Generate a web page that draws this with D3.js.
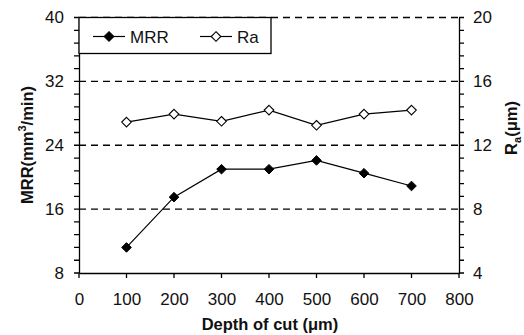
<!DOCTYPE html>
<html>
<head>
<meta charset="utf-8">
<script src="https://cdn.jsdelivr.net/npm/d3@7"></script>
<style>
  body { margin: 0; background: #fff; }
  svg { font-family: "Liberation Sans", Arial, sans-serif; }
</style>
</head>
<body>
<svg id="chart" width="524" height="335"></svg>
<script>
// data
const depths = [100, 200, 300, 400, 500, 600, 700];
const mrrValues = [11.2, 17.5, 21.0, 21.0, 22.1, 20.5, 18.9];
const raValues = [13.45, 13.95, 13.5, 14.2, 13.25, 13.95, 14.2];
const xTicks = [0, 100, 200, 300, 400, 500, 600, 700, 800];
const leftTicks = [8, 16, 24, 32, 40];
const rightTicks = [4, 8, 12, 16, 20];

const svg = d3.select("#chart");
const margin = { left: 79, right: 65, top: 17.5, bottom: 62 };
const width = 524 - margin.left - margin.right;
const height = 335 - margin.top - margin.bottom;

const g = svg.append("g")
  .attr("transform", "translate(" + margin.left + "," + margin.top + ")");

const x = d3.scaleLinear().domain([0, 800]).range([0, width]);
const yL = d3.scaleLinear().domain([8, 40]).range([height, 0]);
const yR = d3.scaleLinear().domain([4, 20]).range([height, 0]);

// dashed grid lines
g.append("g")
  .selectAll("line")
  .data(leftTicks.slice(1))
  .enter()
  .append("line")
  .attr("x1", 0)
  .attr("x2", width)
  .attr("y1", d => yL(d))
  .attr("y2", d => yL(d))
  .attr("stroke", "#000")
  .attr("stroke-width", 1.3)
  .attr("stroke-dasharray", "7,5");

// axes (labels from d3 axes, ticks drawn below)
const bottomAxis = g.append("g")
  .attr("transform", "translate(0," + height + ")")
  .call(d3.axisBottom(x).tickValues(xTicks).tickSize(0).tickFormat(d3.format("d")));
g.append("g")
  .call(d3.axisLeft(yL).tickValues(leftTicks).tickSize(0).tickPadding(15));
g.append("g")
  .attr("transform", "translate(" + width + ",0)")
  .call(d3.axisRight(yR).tickValues(rightTicks).tickSize(0).tickPadding(14));

svg.selectAll(".domain").attr("stroke", "#000").attr("stroke-width", 1.3);
svg.selectAll(".tick text")
  .attr("font-size", 17)
  .attr("font-family", "Liberation Sans, Arial, sans-serif")
  .attr("fill", "#111");
bottomAxis.selectAll(".tick text").attr("y", 32).attr("dy", 0);

// tick marks (minor every 1.6 on the left, 0.8 on the right)
const minorL = d3.range(8, 40.01, 1.6);
const minorR = d3.range(4, 20.01, 0.8);
const tickLen = 5;
const tickPath = [];
minorL.forEach(v => tickPath.push("M" + (-tickLen) + "," + yL(v) + "H0"));
minorR.forEach(v => tickPath.push("M" + width + "," + yR(v) + "h" + tickLen));
xTicks.forEach(v => tickPath.push("M" + x(v) + "," + height + "v" + tickLen));
g.append("path")
  .attr("d", tickPath.join(""))
  .attr("fill", "none")
  .attr("stroke", "#000")
  .attr("stroke-width", 1.3);

// lines
const mrrLine = d3.line().x((d, i) => x(depths[i])).y(d => yL(d));
const raLine = d3.line().x((d, i) => x(depths[i])).y(d => yR(d));

g.append("path")
  .datum(mrrValues)
  .attr("d", mrrLine)
  .attr("fill", "none")
  .attr("stroke", "#000")
  .attr("stroke-width", 1.2);
g.append("path")
  .datum(raValues)
  .attr("d", raLine)
  .attr("fill", "none")
  .attr("stroke", "#000")
  .attr("stroke-width", 1.2);

const diamond = "M0,-4.8L4.8,0L0,4.8L-4.8,0Z";

g.selectAll(".mrr")
  .data(mrrValues)
  .enter()
  .append("path")
  .attr("class", "mrr")
  .attr("d", diamond)
  .attr("transform", (d, i) => "translate(" + x(depths[i]) + "," + yL(d) + ")")
  .attr("fill", "#000")
  .attr("stroke", "#000");

g.selectAll(".ra")
  .data(raValues)
  .enter()
  .append("path")
  .attr("class", "ra")
  .attr("d", diamond)
  .attr("transform", (d, i) => "translate(" + x(depths[i]) + "," + yR(d) + ")")
  .attr("fill", "#fff")
  .attr("stroke", "#000")
  .attr("stroke-width", 1.1);

// legend
const legend = g.append("g");
legend.append("rect")
  .attr("x", 0)
  .attr("y", 0)
  .attr("width", 192)
  .attr("height", 36)
  .attr("fill", "#fff")
  .attr("stroke", "#000")
  .attr("stroke-width", 1.3);

const legendItems = [
  { label: "MRR", x0: 14, fill: "#000" },
  { label: "Ra", x0: 121, fill: "#fff" }
];
legendItems.forEach(it => {
  legend.append("line")
    .attr("x1", it.x0).attr("x2", it.x0 + 32)
    .attr("y1", 19).attr("y2", 19)
    .attr("stroke", "#000").attr("stroke-width", 1.2);
  legend.append("path")
    .attr("d", diamond)
    .attr("transform", "translate(" + (it.x0 + 16) + ",19)")
    .attr("fill", it.fill)
    .attr("stroke", "#000")
    .attr("stroke-width", 1.1);
  legend.append("text")
    .attr("x", it.x0 + 37)
    .attr("y", 25.5)
    .attr("font-size", 17)
    .attr("fill", "#111")
    .text(it.label);
});

// axis titles
svg.append("text")
  .attr("transform", "translate(33,145) rotate(-90)")
  .attr("text-anchor", "middle")
  .attr("font-size", 16.5)
  .attr("font-weight", "bold")
  .attr("fill", "#111")
  .html('MRR(mm<tspan dy="-7" font-size="11">3</tspan><tspan dy="7">/min)</tspan>');

svg.append("text")
  .attr("transform", "translate(517,128) rotate(-90)")
  .attr("text-anchor", "middle")
  .attr("font-size", 16.5)
  .attr("font-weight", "bold")
  .attr("fill", "#111")
  .html('R<tspan dy="4" font-size="11">a</tspan><tspan dy="-4">(μm)</tspan>');

svg.append("text")
  .attr("x", 270)
  .attr("y", 330)
  .attr("text-anchor", "middle")
  .attr("font-size", 16.5)
  .attr("font-weight", "bold")
  .attr("fill", "#111")
  .text("Depth of cut (μm)");
</script>
</body>
</html>
